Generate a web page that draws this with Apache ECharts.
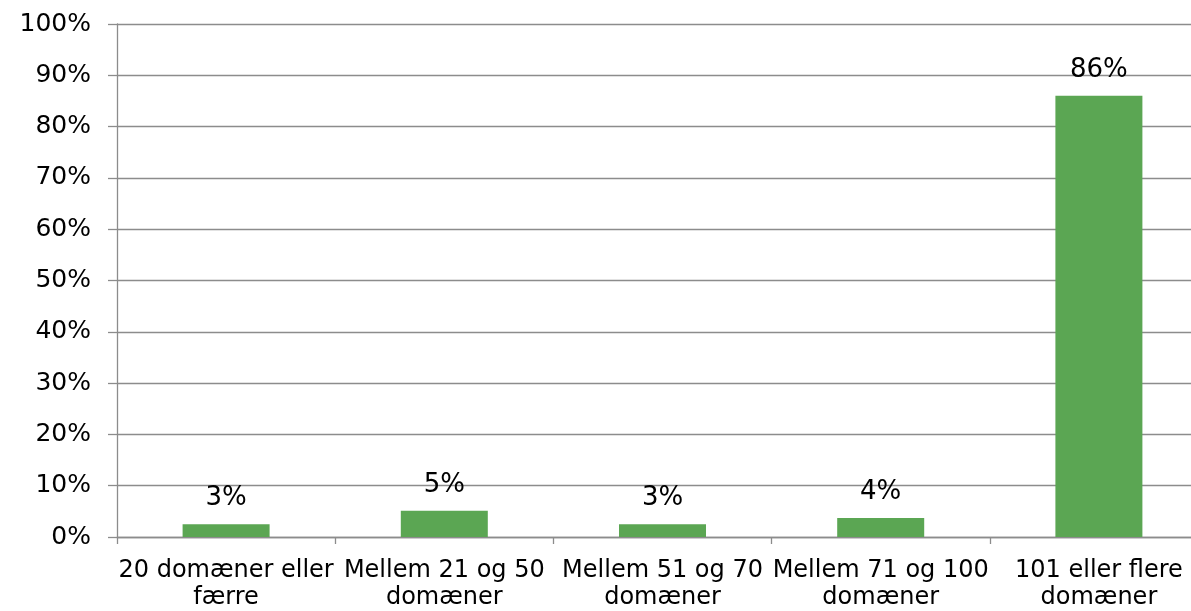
<!DOCTYPE html>
<html>
<head>
<meta charset="utf-8">
<script src="https://cdn.jsdelivr.net/npm/echarts@6/dist/echarts.min.js"></script>
<style>
  html, body { margin: 0; padding: 0; background: #fff; }
  #chart { width: 1191px; height: 611px; }
</style>
</head>
<body>
<div id="chart"></div>
<script>
const categories = [
  '20 domæner eller\nfærre',
  'Mellem 21 og 50\ndomæner',
  'Mellem 51 og 70\ndomæner',
  'Mellem 71 og 100\ndomæner',
  '101 eller flere\ndomæner'
]
const shares = [2.5, 5.1, 2.5, 3.7, 86.0]

const chart = echarts.init(document.getElementById('chart'))
const gridColor = '#8c8c8c'
const font = 'Verdana, "DejaVu Sans", sans-serif'

chart.setOption({
  animation: false,
  grid: {
    left: 117,
    top: 24,
    bottom: 74,
    width: 1091,
    outerBoundsMode: 'none'
  },
  xAxis: {
    type: 'category',
    data: categories,
    axisLine: { lineStyle: { color: gridColor, width: 1.3 } },
    axisTick: { show: true, length: 7, lineStyle: { color: gridColor, width: 1.3 } },
    axisLabel: {
      color: '#000',
      fontFamily: font,
      fontSize: 24,
      lineHeight: 27,
      margin: 20,
      interval: 0
    }
  },
  yAxis: {
    type: 'value',
    min: 0,
    max: 100,
    interval: 10,
    axisLine: { show: true, lineStyle: { color: gridColor, width: 1.3 } },
    axisTick: { show: true, length: 9, lineStyle: { color: gridColor, width: 1.3 } },
    axisLabel: {
      color: '#000',
      fontFamily: font,
      fontSize: 25,
      margin: 26,
      formatter: '{value}%'
    },
    splitLine: { show: true, lineStyle: { color: gridColor, width: 1.3 } }
  },
  series: [{
    type: 'bar',
    data: shares,
    barWidth: 87,
    itemStyle: { color: '#5ba653' },
    label: {
      show: true,
      position: 'top',
      distance: 13,
      color: '#000',
      fontFamily: font,
      fontSize: 26,
      formatter: p => p.value.toFixed(0) + '%'
    }
  }]
})
</script>
</body>
</html>
